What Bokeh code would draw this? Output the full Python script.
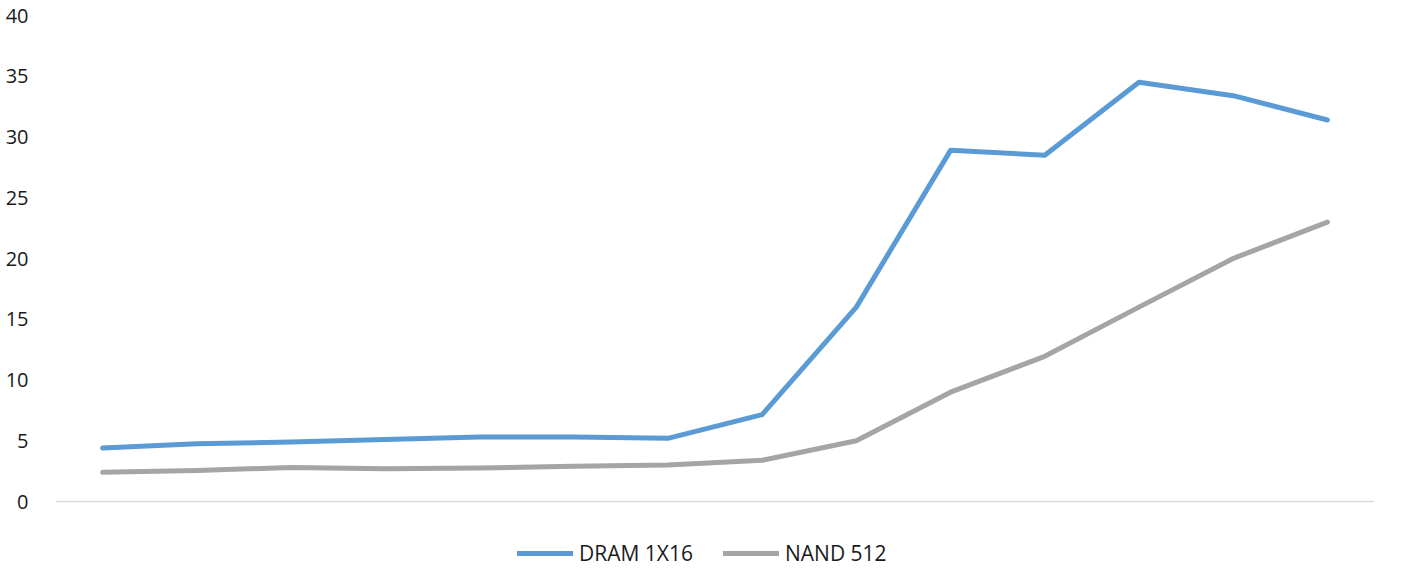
from bokeh.plotting import figure
from bokeh.models import Range1d, Span, Legend, LegendItem, FixedTicker
from bokeh.embed import file_html
from bokeh.resources import INLINE

categories = list(range(1, 15))
dram_1x16 = [4.4, 4.75, 4.9, 5.1, 5.3, 5.3, 5.2, 7.15, 16.0, 28.9, 28.5, 34.5, 33.4, 31.4]
nand_512 = [2.4, 2.55, 2.8, 2.7, 2.75, 2.9, 3.0, 3.4, 5.0, 9.0, 11.95, 16.0, 20.0, 23.0]
y_ticks = [0, 5, 10, 15, 20, 25, 30, 35, 40]

# frame extends below zero to hold the legend (zero line drawn as a span)
p = figure(width=1392, height=568, output_backend="svg", toolbar_location=None,
           x_range=Range1d(0.5, 14.5), y_range=Range1d(-5.514, 40),
           min_border_left=55, min_border_right=18, min_border_top=15, min_border_bottom=0)
p.outline_line_color = None
p.background_fill_color = "white"
p.xgrid.visible = False
p.ygrid.visible = False
p.xaxis.visible = False

ya = p.yaxis[0]
ya.ticker = FixedTicker(ticks=y_ticks)
ya.axis_line_color = None
ya.major_tick_line_color = None
ya.minor_tick_line_color = None
ya.major_label_standoff = 21
ya.major_label_text_font = "Open Sans"
ya.major_label_text_font_size = "20px"
ya.major_label_text_color = "#1a1a1a"

p.add_layout(Span(location=0, dimension="width", line_color="#D9D9D9", line_width=1.5))

r1 = p.line(categories, dram_1x16, line_color="#5B9BD5", line_width=5, line_cap="round", line_join="round")
r2 = p.line(categories, nand_512, line_color="#A5A5A5", line_width=5, line_cap="round", line_join="round")

legend = Legend(items=[LegendItem(label="DRAM 1X16", renderers=[r1]),
                       LegendItem(label="NAND 512", renderers=[r2])],
                orientation="horizontal", location=(462, 1),
                label_text_font="Open Sans", label_text_font_size="21px", label_text_color="#1a1a1a",
                glyph_width=56, glyph_height=24, label_standoff=6, spacing=30,
                border_line_color=None, background_fill_alpha=0, margin=0, padding=0)
p.add_layout(legend)

open("out.html", "w").write(file_html(p, INLINE))
